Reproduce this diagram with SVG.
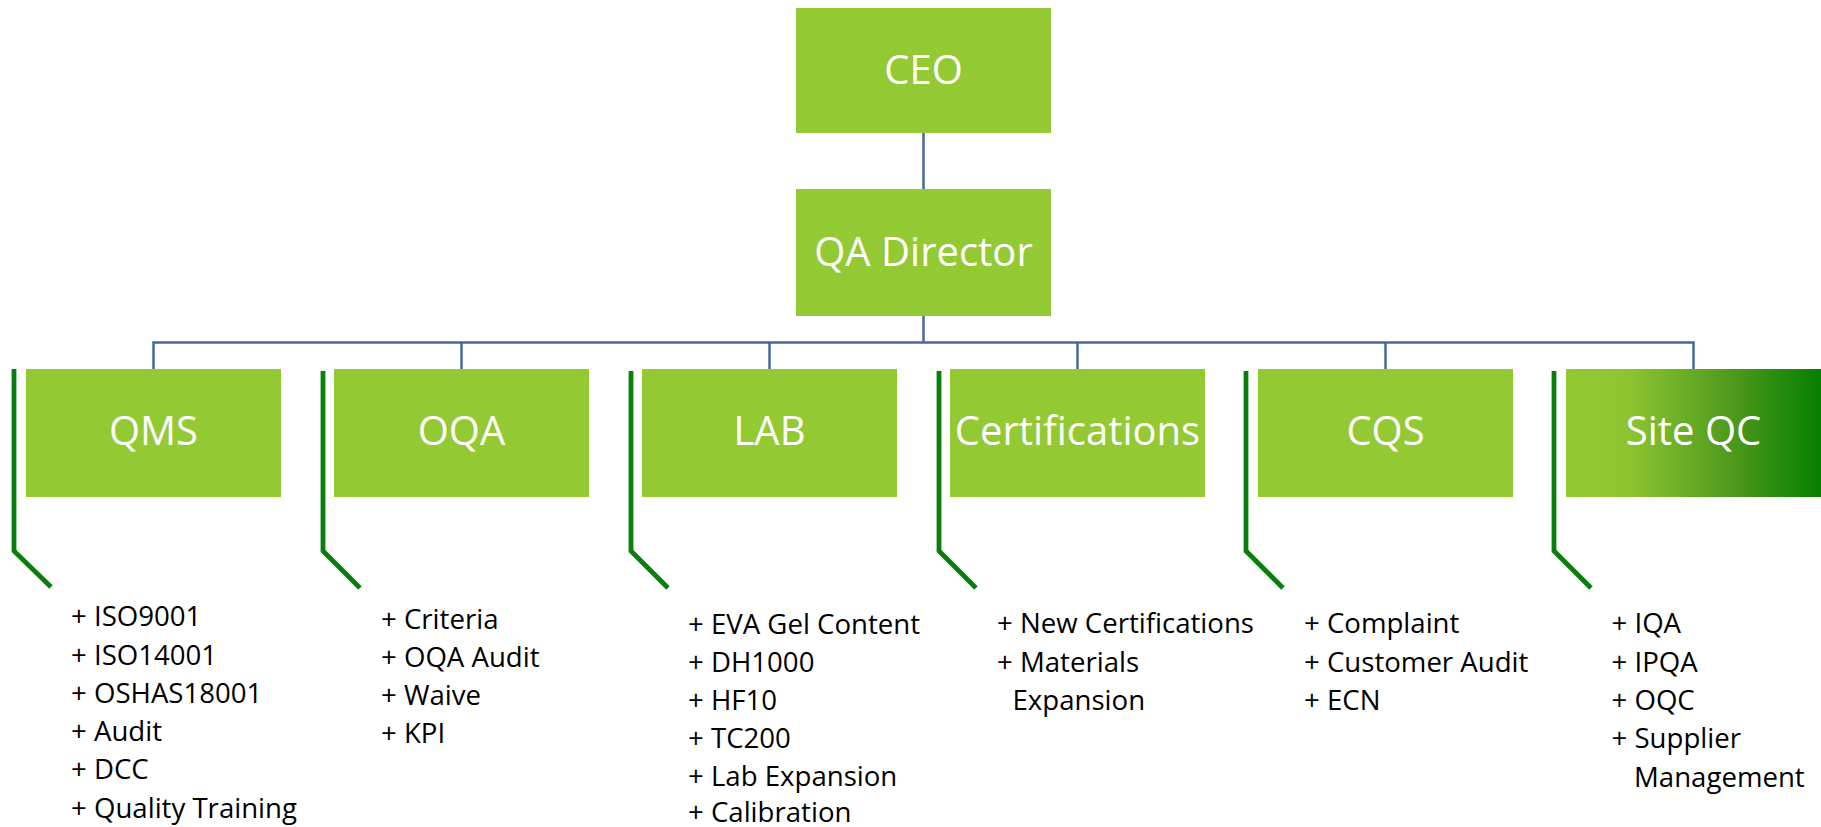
<svg xmlns="http://www.w3.org/2000/svg" width="1821" height="827" viewBox="0 0 1821 827">
  <defs>
    <linearGradient id="siteFill" x1="0" y1="0" x2="1" y2="0">
      <stop offset="0" stop-color="#93C933"/>
      <stop offset="0.25" stop-color="#8CC430"/>
      <stop offset="0.65" stop-color="#4E9A1D"/>
      <stop offset="1" stop-color="#067E00"/>
    </linearGradient>
    <style>
      .box { fill: #93C933; }
      .title { font-family: "Open Sans", "Liberation Sans", sans-serif; font-size: 40px; fill: #FFFFFF; text-anchor: middle; }
      .item { font-family: "Open Sans", "Liberation Sans", sans-serif; font-size: 27.6px; fill: #000000; }
      .link { stroke: #46699B; stroke-width: 2.5; fill: none; }
      .bracket { stroke: #0A7E0A; stroke-width: 4.8; fill: none; stroke-linejoin: miter; }
    </style>
  </defs>
  <rect width="1821" height="827" fill="#FFFFFF"/>

  <!-- reporting lines -->
  <g id="connectors">
    <line class="link" x1="923.5" y1="133" x2="923.5" y2="189"/>
    <line class="link" x1="923.5" y1="316" x2="923.5" y2="342.5"/>
    <polyline class="link" points="153.5,369 153.5,342.5 1693.5,342.5 1693.5,369"/>
    <line class="link" x1="461.5" y1="342.5" x2="461.5" y2="369"/>
    <line class="link" x1="769.5" y1="342.5" x2="769.5" y2="369"/>
    <line class="link" x1="1077.5" y1="342.5" x2="1077.5" y2="369"/>
    <line class="link" x1="1385.5" y1="342.5" x2="1385.5" y2="369"/>
  </g>

  <g id="ceo">
    <rect class="box" x="796" y="8" width="255" height="125"/>
    <text class="title" x="923.5" y="84">CEO</text>
  </g>

  <g id="qa-director">
    <rect class="box" x="796" y="189" width="255" height="127"/>
    <text class="title" x="923.5" y="266">QA Director</text>
  </g>

  <g id="qms">
    <rect class="box" x="26" y="369" width="255" height="128"/>
    <text class="title" x="153.5" y="445">QMS</text>
    <polyline class="bracket" points="14,369 14,551 51,587"/>
    <text class="item" x="71" y="626">+ ISO9001</text>
    <text class="item" x="71" y="664.5">+ ISO14001</text>
    <text class="item" x="71" y="702.8">+ OSHAS18001</text>
    <text class="item" x="71" y="741">+ Audit</text>
    <text class="item" x="71" y="779.3">+ DCC</text>
    <text class="item" x="71" y="817.5">+ Quality Training</text>
  </g>

  <g id="oqa">
    <rect class="box" x="334" y="369" width="255" height="128"/>
    <text class="title" x="461.5" y="445">OQA</text>
    <polyline class="bracket" points="323,371 323,551 360,588"/>
    <text class="item" x="381" y="628.5">+ Criteria</text>
    <text class="item" x="381" y="666.8">+ OQA Audit</text>
    <text class="item" x="381" y="705">+ Waive</text>
    <text class="item" x="381" y="743.3">+ KPI</text>
  </g>

  <g id="lab">
    <rect class="box" x="642" y="369" width="255" height="128"/>
    <text class="title" x="769.5" y="445">LAB</text>
    <polyline class="bracket" points="631,371 631,551 668,588"/>
    <text class="item" x="688" y="634">+ EVA Gel Content</text>
    <text class="item" x="688" y="672">+ DH1000</text>
    <text class="item" x="688" y="710">+ HF10</text>
    <text class="item" x="688" y="748">+ TC200</text>
    <text class="item" x="688" y="786">+ Lab Expansion</text>
    <text class="item" x="688" y="822">+ Calibration</text>
  </g>

  <g id="certifications">
    <rect class="box" x="950" y="369" width="255" height="128"/>
    <text class="title" x="1077.5" y="445">Certifications</text>
    <polyline class="bracket" points="939,371 939,551 976,588"/>
    <text class="item" x="997" y="633.3">+ New Certifications</text>
    <text class="item" x="997" y="671.6">+ Materials</text>
    <text class="item" x="1012.5" y="709.9">Expansion</text>
  </g>

  <g id="cqs">
    <rect class="box" x="1258" y="369" width="255" height="128"/>
    <text class="title" x="1385.5" y="445">CQS</text>
    <polyline class="bracket" points="1246,371 1246,551 1283,588"/>
    <text class="item" x="1304" y="633.3">+ Complaint</text>
    <text class="item" x="1304" y="671.6">+ Customer Audit</text>
    <text class="item" x="1304" y="709.9">+ ECN</text>
  </g>

  <g id="site-qc">
    <rect x="1566" y="369" width="255" height="128" fill="url(#siteFill)"/>
    <text class="title" x="1693.5" y="445">Site QC</text>
    <polyline class="bracket" points="1554,371 1554,551 1591,588"/>
    <text class="item" x="1611.5" y="633.3">+ IQA</text>
    <text class="item" x="1611.5" y="671.6">+ IPQA</text>
    <text class="item" x="1611.5" y="709.9">+ OQC</text>
    <text class="item" x="1611.5" y="748.2">+ Supplier</text>
    <text class="item" x="1634" y="786.5">Management</text>
  </g>
</svg>
